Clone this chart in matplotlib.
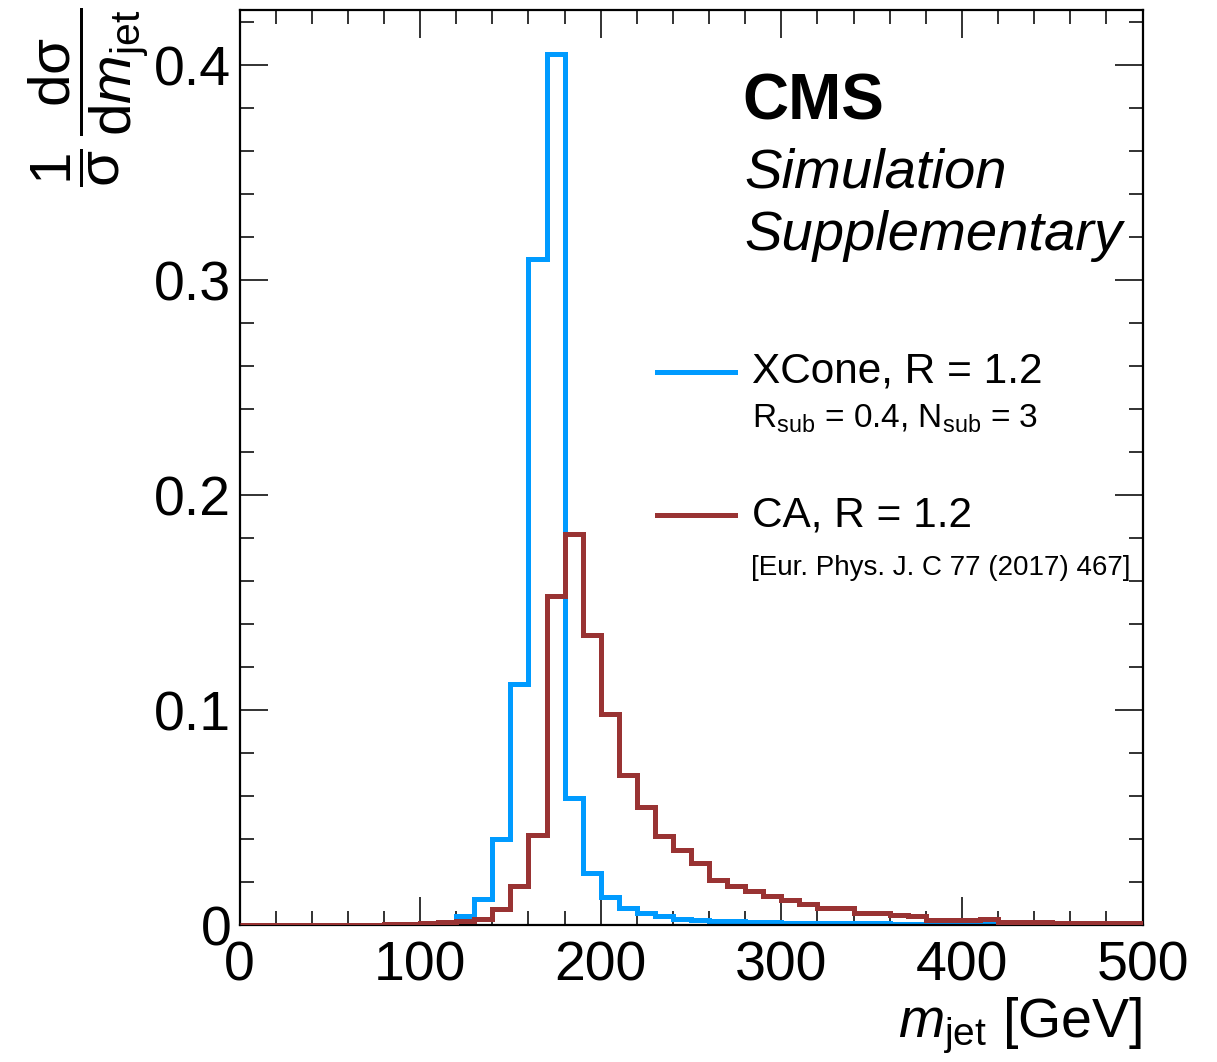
import numpy as np
import matplotlib
matplotlib.use("Agg")
import matplotlib.pyplot as plt
from matplotlib.ticker import MultipleLocator, FuncFormatter

plt.rcParams["font.family"] = ["Liberation Sans", "DejaVu Sans"]
plt.rcParams["mathtext.fontset"] = "custom"
plt.rcParams["mathtext.rm"] = "Liberation Sans"
plt.rcParams["mathtext.it"] = "Liberation Sans:italic"
plt.rcParams["mathtext.bf"] = "Liberation Sans:bold"

# 10 GeV bins from 0 to 500 GeV
bin_edges = np.arange(0, 510, 10)

xcone = [0.0, 0.0, 0.0, 0.0, 0.0, 0.0, 0.0, 0.0, 0.0001, 0.0002,
         0.0005, 0.0012, 0.004, 0.012, 0.040, 0.112, 0.310, 0.405, 0.059, 0.024,
         0.013, 0.008, 0.0055, 0.004, 0.003, 0.0025, 0.002, 0.0018, 0.0015, 0.0013,
         0.0011, 0.001, 0.0009, 0.0008, 0.0007, 0.0007, 0.0006, 0.0006, 0.0005, 0.0005,
         0.0004, 0.0004, 0.0004, 0.0003, 0.0003, 0.0003, 0.0002, 0.0002, 0.0002, 0.0002]

ca = [0.0002, 0.0002, 0.0002, 0.0002, 0.0002, 0.0002, 0.0002, 0.0002, 0.0004, 0.0006,
      0.001, 0.0015, 0.002, 0.003, 0.0075, 0.018, 0.042, 0.153, 0.182, 0.135,
      0.098, 0.070, 0.055, 0.0415, 0.035, 0.029, 0.021, 0.018, 0.016, 0.0136,
      0.0118, 0.0098, 0.008, 0.0078, 0.0057, 0.0055, 0.0045, 0.0042, 0.0025, 0.0023,
      0.0021, 0.0027, 0.0016, 0.0015, 0.0012, 0.0011, 0.001, 0.0009, 0.0007, 0.0007]

blue = "#009BFF"
red = "#993333"

fig = plt.figure(figsize=(12.17, 10.62), dpi=100)
ax = fig.add_axes([239.5 / 1217, 1 - 925 / 1062, 903 / 1217, 915 / 1062])

ax.stairs(xcone, bin_edges, color=blue, lw=3.6, zorder=2)
ax.stairs(ca, bin_edges, color=red, lw=3.6, zorder=3)

ax.set_xlim(0, 500)
ax.set_ylim(0, 0.4256)

ax.xaxis.set_major_locator(MultipleLocator(100))
ax.xaxis.set_minor_locator(MultipleLocator(20))
ax.yaxis.set_major_locator(MultipleLocator(0.1))
ax.yaxis.set_minor_locator(MultipleLocator(0.02))
ax.yaxis.set_major_formatter(FuncFormatter(lambda v, p: "0" if abs(v) < 1e-9 else "%.1f" % v))
ax.xaxis.set_major_formatter(FuncFormatter(lambda v, p: "%d" % round(v)))

ax.tick_params(which="both", direction="in", top=True, right=True, width=1.3, color="#222222")
ax.tick_params(which="major", length=20)
ax.tick_params(which="minor", length=10)
ax.tick_params(axis="y", which="major", labelsize=40, pad=6)
ax.tick_params(axis="x", which="major", labelsize=40, pad=11)
for s in ax.spines.values():
    s.set_linewidth(1.6)

# axis titles
fig.text(1142 / 1217, 1 - 1037 / 1062, r"$m_{\mathrm{jet}}$ [GeV]", fontsize=40,
         ha="right", va="baseline")
fig.text(88 / 1217, 1 - 8 / 1062,
         r"$\dfrac{1}{\mathrm{\sigma}}\,\dfrac{\mathrm{d\sigma}}{\mathrm{d}m_{\mathrm{jet}}}$",
         fontsize=42, rotation=90, ha="center", va="top")

# CMS label
fig.text(742 / 1217, 1 - 120 / 1062, "CMS", fontsize=46, fontweight="bold", va="baseline")
fig.text(744 / 1217, 1 - 187 / 1062, "Simulation", fontsize=40.5, style="italic", va="baseline")
fig.text(744 / 1217, 1 - 250 / 1062, "Supplementary", fontsize=40.5, style="italic", va="baseline")

# legend
fig.lines.append(plt.Line2D([657 / 1217, 735 / 1217], [1 - 372 / 1062] * 2,
                            color=blue, lw=3.6, transform=fig.transFigure))
fig.lines.append(plt.Line2D([657 / 1217, 735 / 1217], [1 - 515 / 1062] * 2,
                            color=red, lw=3.6, transform=fig.transFigure))
fig.text(752 / 1217, 1 - 382 / 1062, "XCone, R = 1.2", fontsize=30.5, va="baseline")
fig.text(752 / 1217, 1 - 428 / 1062, r"R$_{\mathrm{sub}}$ = 0.4, N$_{\mathrm{sub}}$ = 3",
         fontsize=24, va="baseline")
fig.text(752 / 1217, 1 - 526 / 1062, "CA, R = 1.2", fontsize=30.5, va="baseline")
fig.text(751 / 1217, 1 - 575 / 1062, "[Eur. Phys. J. C 77 (2017) 467]", fontsize=20,
         va="baseline")

fig.savefig("out.png", dpi=100)
